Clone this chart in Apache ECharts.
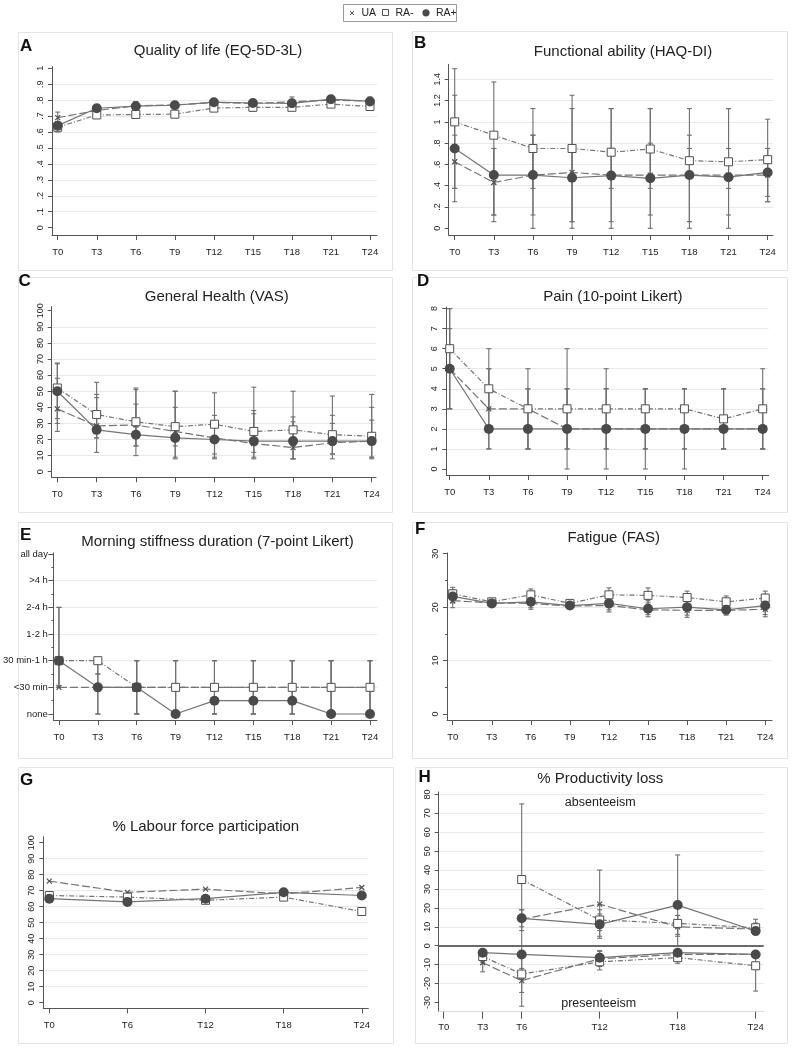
<!DOCTYPE html>
<html><head><meta charset="utf-8">
<script src="https://cdn.jsdelivr.net/npm/echarts@6/dist/echarts.min.js"></script>
<style>html,body{margin:0;padding:0;background:#fff}#c{width:794px;height:1047px}</style>
</head><body><div id="c"></div>
<script>
// ---------------- DATA ----------------
const months9 = [0, 3, 6, 9, 12, 15, 18, 21, 24];
const monthsG = [0, 6, 12, 18, 24];
const monthsHabs = [6, 12, 18, 24];
const monthsHpre = [3, 6, 12, 18, 24];
const xTicksH = [0, 3, 6, 12, 18, 24];
const groupNames = ['UA', 'RA-', 'RA+'];

// A: Quality of life (EQ-5D-3L)
const A_yTicks = [0, 0.1, 0.2, 0.3, 0.4, 0.5, 0.6, 0.7, 0.8, 0.9, 1];
const A_yLabels = ['0', '.1', '.2', '.3', '.4', '.5', '.6', '.7', '.8', '.9', '1'];
const A_UA  = [0.69, 0.735, 0.765, 0.77, 0.785, 0.78, 0.79, 0.80, 0.795];
const A_RAm = [0.63, 0.707, 0.71, 0.712, 0.75, 0.755, 0.755, 0.775, 0.76];
const A_RAp = [0.64, 0.749, 0.762, 0.768, 0.787, 0.782, 0.78, 0.806, 0.792];
const A_UA_lo  = [0.66, 0.72, 0.74, 0.75, 0.77, 0.76, 0.76, 0.78, 0.77];
const A_UA_hi  = [0.725, 0.755, 0.79, 0.79, 0.80, 0.80, 0.82, 0.82, 0.82];
const A_RAm_lo = [0.60, 0.69, 0.69, 0.69, 0.735, 0.73, 0.735, 0.76, 0.74];
const A_RAm_hi = [0.66, 0.72, 0.73, 0.735, 0.77, 0.78, 0.78, 0.795, 0.785];
const A_RAp_lo = [0.61, 0.73, 0.745, 0.75, 0.77, 0.765, 0.765, 0.79, 0.775];
const A_RAp_hi = [0.665, 0.765, 0.79, 0.785, 0.80, 0.80, 0.80, 0.82, 0.815];

// B: Functional ability (HAQ-DI)
const B_yTicks = [0, 0.2, 0.4, 0.6, 0.8, 1, 1.2, 1.4];
const B_yLabels = ['0', '.2', '.4', '.6', '.8', '1', '1.2', '1.4'];
const B_UA  = [0.625, 0.43, 0.5, 0.525, 0.5, 0.5, 0.5, 0.5, 0.5];
const B_RAm = [1.0, 0.875, 0.75, 0.75, 0.715, 0.745, 0.635, 0.625, 0.645];
const B_RAp = [0.75, 0.5, 0.5, 0.475, 0.495, 0.47, 0.5, 0.48, 0.525];
const B_UA_lo  = [0.375, 0.125, 0.375, 0.0625, 0.375, 0.125, 0.0625, 0.375, 0.3];
const B_UA_hi  = [0.875, 0.75, 0.875, 0.75, 0.75, 0.8, 0.75, 0.75, 0.75];
const B_RAm_lo = [0.25, 0.0625, 0.125, 0.0625, 0.0625, 0.375, 0.0625, 0.125, 0.25];
const B_RAm_hi = [1.5, 1.375, 1.125, 1.25, 1.125, 1.125, 1.125, 1.125, 1.025];
const B_RAp_lo = [0.375, 0.125, 0, 0, 0, 0, 0, 0, 0.25];
const B_RAp_hi = [1.25, 0.75, 0.875, 1.125, 1.125, 1.125, 0.875, 1.125, 0.75];

// C: General Health (VAS)
const C_yTicks = [0, 10, 20, 30, 40, 50, 60, 70, 80, 90, 100];
const C_yLabels = ['0', '10', '20', '30', '40', '50', '60', '70', '80', '90', '100'];
const C_UA  = [39, 28.5, 29, 25, 21, 17.5, 15, 18, 19];
const C_RAm = [52, 35.5, 31, 28, 29.5, 25, 26, 23, 22];
const C_RAp = [50, 26, 23, 21, 20, 19, 19, 19, 19];
const C_UA_lo  = [33, 21, 16, 9, 8, 9, 8, 11, 9];
const C_UA_hi  = [58, 46, 42, 40, 30, 36, 31, 30, 32];
const C_RAm_lo = [30, 21, 16, 16, 11, 12, 8, 11, 9];
const C_RAm_hi = [67.5, 55.5, 52, 50, 49, 52.5, 50, 47, 48];
const C_RAp_lo = [25, 12, 10, 8, 9, 8, 8, 8, 8];
const C_RAp_hi = [67, 48, 51, 50, 35, 38, 34, 35, 40];

// D: Pain (10-point Likert)
const D_yTicks = [0, 1, 2, 3, 4, 5, 6, 7, 8];
const D_yLabels = ['0', '1', '2', '3', '4', '5', '6', '7', '8'];
const D_UA  = [5, 3, 3, 2, 2, 2, 2, 2, 2];
const D_RAm = [6, 4, 3, 3, 3, 3, 3, 2.5, 3];
const D_RAp = [5, 2, 2, 2, 2, 2, 2, 2, 2];
const D_UA_lo  = [3, 1, 1, 1, 1, 1, 1, 1, 1];
const D_UA_hi  = [7, 5, 4, 4, 4, 4, 4, 4, 4];
const D_RAm_lo = [3, 3, 1, 1, 1, 1, 1, 1, 1];
const D_RAm_hi = [8, 6, 5, 6, 5, 4, 4, 4, 5];
const D_RAp_lo = [3, 1, 1, 0, 0, 0, 0, 1, 1];
const D_RAp_hi = [8, 5, 4, 4, 4, 4, 4, 4, 4];

// E: Morning stiffness duration (7-point Likert)
const E_yTicks = [0, 1, 2, 3, 4, 5, 6];
const E_yLabels = ['none', '<30 min', '30 min-1 h', '1-2 h', '2-4 h', '>4 h', 'all day'];
const E_yMinor = [0.5, 1.5, 2.5, 3.5, 4.5, 5.5];
const E_UA  = [1, 1, 1, 1, 1, 1, 1, 1, 1];
const E_RAm = [2, 2, 1, 1, 1, 1, 1, 1, 1];
const E_RAp = [2, 1, 1, 0, 0.5, 0.5, 0.5, 0, 0];
const E_UA_lo  = [1, 0, 0, 0, 0, 0, 0, 0, 0];
const E_UA_hi  = [2, 1.5, 2, 2, 2, 2, 2, 2, 2];
const E_RAm_lo = [1, 1.5, 0, 0, 0, 0, 0, 0, 0];
const E_RAm_hi = [4, 2, 2, 2, 2, 2, 2, 2, 2];
const E_RAp_lo = [1, 0, 0, 0, 0, 0, 0, 0, 0];
const E_RAp_hi = [4, 2, 2, 2, 2, 2, 2, 2, 2];

// F: Fatigue (FAS)
const F_yTicks = [0, 10, 20, 30];
const F_yLabels = ['0', '10', '20', '30'];
const F_yMinor = [5, 15, 25];
const F_UA  = [21.2, 20.8, 20.7, 20.2, 20.3, 19.5, 19.4, 19.4, 19.6];
const F_RAm = [22.5, 21.0, 22.3, 20.7, 22.3, 22.2, 21.8, 21.0, 21.7];
const F_RAp = [22.0, 20.7, 21.0, 20.3, 20.7, 19.7, 20.0, 19.5, 20.3];
const F_UA_lo  = [19.9, 20.2, 19.9, 19.7, 19.5, 18.6, 18.5, 18.7, 18.6];
const F_UA_hi  = [22.5, 21.4, 21.5, 20.7, 21.1, 20.4, 20.3, 20.1, 20.6];
const F_RAm_lo = [21.3, 20.4, 21.2, 20.1, 21.1, 20.8, 20.6, 19.9, 20.6];
const F_RAm_hi = [23.7, 21.6, 23.4, 21.3, 23.6, 23.6, 23.0, 22.1, 23.0];
const F_RAp_lo = [20.8, 20.1, 19.6, 19.8, 19.1, 18.2, 18.1, 18.5, 18.2];
const F_RAp_hi = [23.2, 21.3, 22.4, 20.8, 22.3, 21.2, 21.9, 20.5, 22.4];

// G: % Labour force participation
const G_yTicks = [0, 10, 20, 30, 40, 50, 60, 70, 80, 90, 100];
const G_yLabels = ['0', '10', '20', '30', '40', '50', '60', '70', '80', '90', '100'];
const G_UA  = [76, 69, 71, 68, 72];
const G_RAm = [67, 66, 64, 66, 57];
const G_RAp = [65, 63, 65, 69, 67];

// H: % Productivity loss (absenteeism positive, presenteeism negative)
const H_yTicks = [-30, -20, -10, 0, 10, 20, 30, 40, 50, 60, 70, 80];
const H_yLabels = ['-30', '-20', '-10', '0', '10', '20', '30', '40', '50', '60', '70', '80'];
const H_baseline = 0;
const H_abs_UA  = [14, 22, 10, 8.8];
const H_abs_RAm = [35, 13.6, 11.8, 9.5];
const H_abs_RAp = [14.5, 11.3, 21.5, 7.8];
const H_abs_UA_lo  = [10, 3.9, 5, 6];
const H_abs_UA_hi  = [19, 40, 16, 11];
const H_abs_RAm_lo = [0, 8, 6, 6];
const H_abs_RAm_hi = [75, 19, 16, 14];
const H_abs_RAp_lo = [8, 5, 0, 5.7];
const H_abs_RAp_hi = [19, 16.8, 48, 12];
const H_pre_UA  = [-9, -18.5, -6.9, -4.6, -4.6];
const H_pre_RAm = [-5.7, -15, -8.5, -6.3, -10.6];
const H_pre_RAp = [-3.7, -4.6, -6.3, -3.7, -4.6];
const H_pre_UA_lo  = [-13.8, -24.7, -12.8, -9.3, -6];
const H_pre_UA_hi  = [-5, -12, -3, -2.3, -3.5];
const H_pre_RAm_lo = [-9, -32, -11, -8, -24];
const H_pre_RAm_hi = [-3, -5, -5, -3, -5];
const H_pre_RAp_lo = [-5, -16, -9, -5, -6];
const H_pre_RAp_hi = [-2.3, 0, -2.6, -2.5, -3];

// ---------------- STYLE / LAYOUT ----------------
const FONT = 'Liberation Sans, Arial, Helvetica, sans-serif';
const LINE_C = '#747474', ERR_C = '#707070', AX_C = '#555', GRID_C = '#e9e9e9', TXT_C = '#222';
const STY = {
  UA:  {symbol: 'path://M0,0L10,10M10,0L0,10', size: 5, dash: [8, 3], item: {color: 'none', borderColor: '#505050', borderWidth: 1.2}, z: 3},
  RAm: {symbol: 'rect', size: 8, dash: [5, 2, 1, 2], item: {color: '#fff', borderColor: '#505050', borderWidth: 1}, z: 4},
  RAp: {symbol: 'circle', size: 10, dash: 'solid', item: {color: '#4a4a4a', borderWidth: 0}, z: 5}
};
const T = 'transparent', g = GRID_C;

const panels = [
  {letter: 'A', title: 'Quality of life (EQ-5D-3L)', tx: 218, ty: 51, lx: 20, ly: 46.5,
   grid: {left: 52, top: 66.5, width: 325, height: 168.5}, x: [-0.44, 24.54], y: [-0.046, 1.011],
   xTicks: months9, yTicks: A_yTicks, yLabels: A_yLabels, split: [T, g, g, g, g, g, g, g, g, g, T],
   sets: [{m: months9, UA: [A_UA, A_UA_lo, A_UA_hi], RAm: [A_RAm, A_RAm_lo, A_RAm_hi], RAp: [A_RAp, A_RAp_lo, A_RAp_hi]}]},
  {letter: 'B', title: 'Functional ability (HAQ-DI)', tx: 623, ty: 51.5, lx: 414, ly: 43.5,
   grid: {left: 448.7, top: 64.3, width: 324.3, height: 170.7}, x: [-0.46, 24.41], y: [-0.063, 1.541],
   xTicks: months9, yTicks: B_yTicks, yLabels: B_yLabels, split: [T, g, g, g, g, g, g, g],
   sets: [{m: months9, UA: [B_UA, B_UA_lo, B_UA_hi], RAm: [B_RAm, B_RAm_lo, B_RAm_hi], RAp: [B_RAp, B_RAp_lo, B_RAp_hi]}]},
  {letter: 'C', title: 'General Health (VAS)', tx: 216.7, ty: 297.3, lx: 18.5, ly: 281,
   grid: {left: 51.7, top: 306.7, width: 324.3, height: 170.6}, x: [-0.43, 24.33], y: [-3.48, 102.5],
   xTicks: months9, yTicks: C_yTicks, yLabels: C_yLabels, split: [T, g, g, g, g, g, g, g, g, g, T],
   sets: [{m: months9, UA: [C_UA, C_UA_lo, C_UA_hi], RAm: [C_RAm, C_RAm_lo, C_RAm_hi], RAp: [C_RAp, C_RAp_lo, C_RAp_hi]}]},
  {letter: 'D', title: 'Pain (10-point Likert)', tx: 612.8, ty: 297.3, lx: 417, ly: 281,
   grid: {left: 446.3, top: 307, width: 322.4, height: 168}, x: [-0.26, 24.46], y: [-0.3, 8.08],
   xTicks: months9, yTicks: D_yTicks, yLabels: D_yLabels, split: [T, g, g, g, g, g, g, g, g],
   sets: [{m: months9, UA: [D_UA, D_UA_lo, D_UA_hi], RAm: [D_RAm, D_RAm_lo, D_RAm_hi], RAp: [D_RAp, D_RAp_lo, D_RAp_hi]}]},
  {letter: 'E', title: 'Morning stiffness duration (7-point Likert)', tx: 217.5, ty: 541.7, lx: 20, ly: 535,
   grid: {left: 51.7, top: 553, width: 325.3, height: 167}, x: [-0.43, 24.54], y: [-0.225, 6.04],
   xTicks: months9, yTicks: E_yTicks, yLabels: E_yLabels, yMinor: E_yMinor, horiz: true, split: [T, g, g, g, g, g, T],
   sets: [{m: months9, UA: [E_UA, E_UA_lo, E_UA_hi], RAm: [E_RAm, E_RAm_lo, E_RAm_hi], RAp: [E_RAp, E_RAp_lo, E_RAp_hi]}]},
  {letter: 'F', title: 'Fatigue (FAS)', tx: 613.7, ty: 538.3, lx: 415, ly: 529,
   grid: {left: 447, top: 553, width: 325, height: 167}, x: [-0.44, 24.52], y: [-1.12, 30.13],
   xTicks: months9, yTicks: F_yTicks, yLabels: F_yLabels, yMinor: F_yMinor, split: [T, g, g, T],
   sets: [{m: months9, UA: [F_UA, F_UA_lo, F_UA_hi], RAm: [F_RAm, F_RAm_lo, F_RAm_hi], RAp: [F_RAp, F_RAp_lo, F_RAp_hi]}]},
  {letter: 'G', title: '% Labour force participation', tx: 205.8, ty: 826.7, lx: 20, ly: 780,
   grid: {left: 43.3, top: 836.7, width: 325, height: 171.6}, x: [-0.46, 24.5], y: [-3.5, 103.75],
   xTicks: monthsG, yTicks: G_yTicks, yLabels: G_yLabels, split: [T, g, g, g, g, g, g, g, g, g, T],
   sets: [{m: monthsG, UA: [G_UA], RAm: [G_RAm], RAp: [G_RAp]}]},
  {letter: 'H', title: '% Productivity loss', tx: 600.3, ty: 779, lx: 418.5, ly: 777.7,
   grid: {left: 438.7, top: 792, width: 325, height: 219.7}, x: [-0.385, 24.62], y: [-34.9, 81.3],
   xTicks: xTicksH, yTicks: H_yTicks, yLabels: H_yLabels, split: [T, g, g, g, g, g, g, g, g, g, g, g], noXLine: true, baseline: H_baseline,
   sets: [{m: monthsHabs, UA: [H_abs_UA, H_abs_UA_lo, H_abs_UA_hi], RAm: [H_abs_RAm, H_abs_RAm_lo, H_abs_RAm_hi], RAp: [H_abs_RAp, H_abs_RAp_lo, H_abs_RAp_hi]},
          {m: monthsHpre, UA: [H_pre_UA, H_pre_UA_lo, H_pre_UA_hi], RAm: [H_pre_RAm, H_pre_RAm_lo, H_pre_RAm_hi], RAp: [H_pre_RAp, H_pre_RAp_lo, H_pre_RAp_hi]}]}
];

const panelBoxes = [
  [18, 32, 374, 238], [412, 31, 375, 239],
  [18, 277, 374, 235], [412, 277, 375, 235],
  [18, 522, 374, 236], [412, 522, 375, 236],
  [18, 767, 375, 276], [415, 767, 372, 276]
];

// ---------------- BUILD ----------------
function nearestLabel(ticks, labels, v) {
  let bi = 0, bd = Infinity;
  ticks.forEach((t, i) => { const d = Math.abs(t - v); if (d < bd) { bd = d; bi = i; } });
  return bd < 1e-6 * (1 + Math.abs(v)) + 1e-9 ? labels[bi] : '';
}

function renderErr(params, api) {
  const x = api.value(0), lo = api.value(1), hi = api.value(2);
  const p1 = api.coord([x, hi]), p2 = api.coord([x, lo]);
  const w = 2.5;
  const st = {stroke: ERR_C, lineWidth: 1.1};
  return {type: 'group', children: [
    {type: 'line', shape: {x1: p1[0], y1: p1[1], x2: p2[0], y2: p2[1]}, style: st},
    {type: 'line', shape: {x1: p1[0] - w, y1: p1[1], x2: p1[0] + w, y2: p1[1]}, style: st},
    {type: 'line', shape: {x1: p2[0] - w, y1: p2[1], x2: p2[0] + w, y2: p2[1]}, style: st}
  ]};
}

const grids = [], xAxes = [], yAxes = [], series = [], graphics = [];

panelBoxes.forEach(b => graphics.push({type: 'rect', shape: {x: b[0] + 0.5, y: b[1] + 0.5, width: b[2], height: b[3]},
  style: {fill: 'none', stroke: '#e4e4e4', lineWidth: 1}, silent: true, z: -10}));

panels.forEach((p, gi) => {
  grids.push(Object.assign({containLabel: false, show: false}, p.grid));
  const xi = xAxes.length;
  xAxes.push({
    type: 'value', gridIndex: gi, min: p.x[0], max: p.x[1],
    axisLine: {show: true, onZero: false, lineStyle: {color: p.noXLine ? '#dcdcdc' : AX_C, width: 1}},
    axisTick: {show: true, length: p.noXLine ? 7 : 5, customValues: p.xTicks, lineStyle: {color: AX_C, width: 1}},
    axisLabel: {customValues: p.xTicks, formatter: v => 'T' + Math.round(v), margin: p.noXLine ? 11 : 12,
      fontSize: 9.5, color: TXT_C, fontFamily: FONT},
    splitLine: {show: false}
  });
  const yi = yAxes.length;
  yAxes.push({
    type: 'value', gridIndex: gi, min: p.y[0], max: p.y[1],
    axisLine: {show: true, onZero: false, lineStyle: {color: AX_C, width: 1}},
    axisTick: {show: true, length: p.horiz ? 5 : 4, customValues: p.yTicks, lineStyle: {color: AX_C, width: 1}},
    axisLabel: {customValues: p.yTicks, rotate: p.horiz ? 0 : 90, margin: p.horiz ? 5.5 : 7,
      fontSize: p.horiz ? 9.5 : 9, color: TXT_C, fontFamily: FONT,
      formatter: v => nearestLabel(p.yTicks, p.yLabels, v)},
    splitLine: {show: true, lineStyle: {color: p.split, width: 1}}
  });
  if (p.yMinor) {
    yAxes.push({
      type: 'value', gridIndex: gi, min: p.y[0], max: p.y[1], position: 'left',
      axisLine: {show: false, onZero: false},
      axisTick: {show: true, length: 2, customValues: p.yMinor, lineStyle: {color: AX_C, width: 1}},
      axisLabel: {show: false}, splitLine: {show: false}
    });
  }
  p.sets.forEach((s, si) => {
    ['UA', 'RAm', 'RAp'].forEach((k) => {
      const arr = s[k];
      if (arr.length > 1) {
        series.push({
          type: 'custom', xAxisIndex: xi, yAxisIndex: yi, silent: true, z: 2,
          renderItem: renderErr, encode: {x: 0, y: [1, 2]},
          data: s.m.map((m, i) => [m, arr[1][i], arr[2][i]])
        });
      }
    });
    ['UA', 'RAm', 'RAp'].forEach((k, ki) => {
      const st = STY[k];
      const ser = {
        type: 'line', name: groupNames[ki], xAxisIndex: xi, yAxisIndex: yi, z: st.z,
        symbol: st.symbol, symbolSize: st.size, showSymbol: true, animation: false, silent: true,
        lineStyle: {color: LINE_C, width: 1.2, type: st.dash},
        itemStyle: st.item,
        data: s.m.map((m, i) => [m, s[k][0][i]])
      };
      if (p.baseline !== undefined && si === 0 && k === 'RAp') {
        ser.markLine = {silent: true, symbol: 'none', label: {show: false}, animation: false,
          lineStyle: {color: '#6a6a6a', width: 2, type: 'solid'}, data: [{yAxis: p.baseline}]};
      }
      series.push(ser);
    });
  });
  graphics.push({type: 'text', x: p.lx, y: p.ly, style: {text: p.letter, font: 'bold 17px ' + FONT, fill: '#111', textVerticalAlign: 'middle'}});
  graphics.push({type: 'text', x: p.tx, y: p.ty, style: {text: p.title, font: '15px ' + FONT, fill: '#222', textAlign: 'center', textVerticalAlign: 'middle'}});
});

// H annotations
graphics.push({type: 'text', x: 600.3, y: 802.3, style: {text: 'absenteeism', font: '12.5px ' + FONT, fill: '#222', textAlign: 'center', textVerticalAlign: 'middle'}});
graphics.push({type: 'text', x: 598.7, y: 1003.3, style: {text: 'presenteeism', font: '12.5px ' + FONT, fill: '#222', textAlign: 'center', textVerticalAlign: 'middle'}});

// Legend
graphics.push({type: 'rect', shape: {x: 343.5, y: 4.5, width: 113, height: 17}, style: {fill: '#fff', stroke: '#9a9a9a', lineWidth: 1}});
graphics.push({type: 'group', children: [
  {type: 'line', shape: {x1: 350, y1: 11, x2: 354, y2: 15}, style: {stroke: '#555', lineWidth: 1}},
  {type: 'line', shape: {x1: 354, y1: 11, x2: 350, y2: 15}, style: {stroke: '#555', lineWidth: 1}},
  {type: 'text', x: 361.5, y: 13, style: {text: groupNames[0], font: '10.5px ' + FONT, fill: '#222', textVerticalAlign: 'middle'}},
  {type: 'rect', shape: {x: 382.5, y: 9.5, width: 6, height: 6}, style: {fill: '#fff', stroke: '#555', lineWidth: 1}},
  {type: 'text', x: 395.5, y: 13, style: {text: groupNames[1], font: '10.5px ' + FONT, fill: '#222', textVerticalAlign: 'middle'}},
  {type: 'circle', shape: {cx: 426, cy: 12.8, r: 3.6}, style: {fill: '#4a4a4a'}},
  {type: 'text', x: 436, y: 13, style: {text: groupNames[2], font: '10.5px ' + FONT, fill: '#222', textVerticalAlign: 'middle'}}
]});

const chart = echarts.init(document.getElementById('c'), null, {renderer: 'canvas'});
chart.setOption({
  animation: false,
  backgroundColor: '#fff',
  grid: grids, xAxis: xAxes, yAxis: yAxes, series: series, graphic: graphics
});
</script></body></html>
